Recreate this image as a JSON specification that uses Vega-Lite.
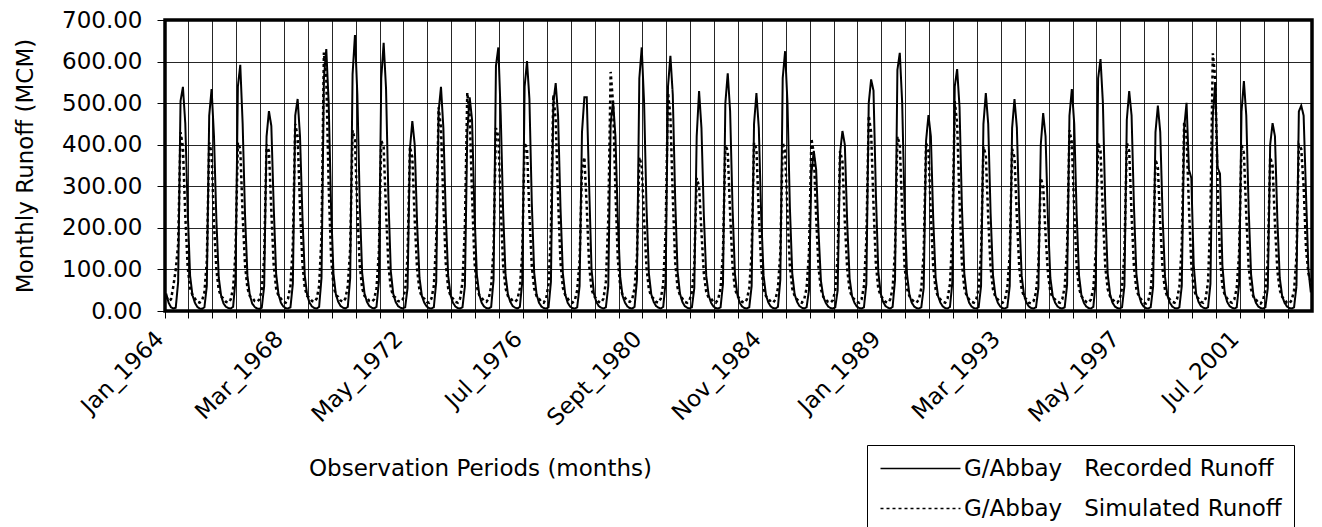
{
"$schema": "https://vega.github.io/schema/vega-lite/v6.json",
"width": 1147, "height": 291,
"autosize": {"type": "none"},
"padding": {"left": 165, "top": 20, "right": 10, "bottom": 216},
"background": "white",
"config": {
 "font": "DejaVu Sans",
 "view": {"stroke": "black", "strokeWidth": 3.5},
 "axis": {"labelFont": "DejaVu Sans", "titleFont": "DejaVu Sans", "labelColor": "black", "titleColor": "black", "titleFontWeight": "normal", "tickColor": "black", "gridColor": "black", "gridWidth": 1, "gridOpacity": 0.85, "domain": false}
},
"data": {"values": [
{"p":"Jan_1964","r":42,"s":35},{"p":"Feb_1964","r":20,"s":25},{"p":"Mar_1964","r":9,"s":28},{"p":"Apr_1964","r":6,"s":60},{"p":"May_1964","r":8,"s":100},{"p":"Jun_1964","r":70,"s":160},{"p":"Jul_1964","r":505,"s":430},{"p":"Aug_1964","r":539,"s":395},{"p":"Sept_1964","r":450,"s":230},{"p":"Oct_1964","r":240,"s":105},{"p":"Nov_1964","r":85,"s":55},{"p":"Dec_1964","r":38,"s":38},
{"p":"Jan_1965","r":20,"s":30},{"p":"Feb_1965","r":10,"s":22},{"p":"Mar_1965","r":6,"s":20},{"p":"Apr_1965","r":5,"s":25},{"p":"May_1965","r":9,"s":45},{"p":"Jun_1965","r":60,"s":120},{"p":"Jul_1965","r":470,"s":405},{"p":"Aug_1965","r":534,"s":380},{"p":"Sept_1965","r":420,"s":210},{"p":"Oct_1965","r":220,"s":100},{"p":"Nov_1965","r":80,"s":50},{"p":"Dec_1965","r":36,"s":35},
{"p":"Jan_1966","r":18,"s":30},{"p":"Feb_1966","r":10,"s":22},{"p":"Mar_1966","r":7,"s":20},{"p":"Apr_1966","r":6,"s":28},{"p":"May_1966","r":10,"s":55},{"p":"Jun_1966","r":75,"s":140},{"p":"Jul_1966","r":540,"s":405},{"p":"Aug_1966","r":592,"s":390},{"p":"Sept_1966","r":450,"s":230},{"p":"Oct_1966","r":230,"s":110},{"p":"Nov_1966","r":85,"s":55},{"p":"Dec_1966","r":38,"s":36},
{"p":"Jan_1967","r":18,"s":32},{"p":"Feb_1967","r":10,"s":24},{"p":"Mar_1967","r":6,"s":22},{"p":"Apr_1967","r":5,"s":28},{"p":"May_1967","r":8,"s":50},{"p":"Jun_1967","r":60,"s":130},{"p":"Jul_1967","r":420,"s":400},{"p":"Aug_1967","r":481,"s":385},{"p":"Sept_1967","r":445,"s":240},{"p":"Oct_1967","r":250,"s":110},{"p":"Nov_1967","r":90,"s":55},{"p":"Dec_1967","r":40,"s":36},
{"p":"Jan_1968","r":20,"s":30},{"p":"Feb_1968","r":11,"s":22},{"p":"Mar_1968","r":7,"s":20},{"p":"Apr_1968","r":6,"s":30},{"p":"May_1968","r":9,"s":60},{"p":"Jun_1968","r":65,"s":160},{"p":"Jul_1968","r":470,"s":450},{"p":"Aug_1968","r":510,"s":420},{"p":"Sept_1968","r":420,"s":250},{"p":"Oct_1968","r":230,"s":115},{"p":"Nov_1968","r":85,"s":55},{"p":"Dec_1968","r":38,"s":36},
{"p":"Jan_1969","r":20,"s":32},{"p":"Feb_1969","r":11,"s":24},{"p":"Mar_1969","r":7,"s":22},{"p":"Apr_1969","r":6,"s":30},{"p":"May_1969","r":10,"s":60},{"p":"Jun_1969","r":80,"s":180},{"p":"Jul_1969","r":560,"s":622},{"p":"Aug_1969","r":630,"s":560},{"p":"Sept_1969","r":500,"s":300},{"p":"Oct_1969","r":250,"s":130},{"p":"Nov_1969","r":90,"s":60},{"p":"Dec_1969","r":40,"s":38},
{"p":"Jan_1970","r":22,"s":34},{"p":"Feb_1970","r":12,"s":25},{"p":"Mar_1970","r":8,"s":22},{"p":"Apr_1970","r":6,"s":30},{"p":"May_1970","r":10,"s":60},{"p":"Jun_1970","r":80,"s":150},{"p":"Jul_1970","r":570,"s":435},{"p":"Aug_1970","r":664,"s":410},{"p":"Sept_1970","r":520,"s":240},{"p":"Oct_1970","r":260,"s":110},{"p":"Nov_1970","r":92,"s":55},{"p":"Dec_1970","r":42,"s":36},
{"p":"Jan_1971","r":22,"s":32},{"p":"Feb_1971","r":12,"s":24},{"p":"Mar_1971","r":8,"s":22},{"p":"Apr_1971","r":6,"s":28},{"p":"May_1971","r":10,"s":55},{"p":"Jun_1971","r":70,"s":140},{"p":"Jul_1971","r":560,"s":410},{"p":"Aug_1971","r":645,"s":395},{"p":"Sept_1971","r":535,"s":240},{"p":"Oct_1971","r":270,"s":110},{"p":"Nov_1971","r":95,"s":55},{"p":"Dec_1971","r":42,"s":36},
{"p":"Jan_1972","r":22,"s":32},{"p":"Feb_1972","r":12,"s":24},{"p":"Mar_1972","r":8,"s":22},{"p":"Apr_1972","r":6,"s":28},{"p":"May_1972","r":9,"s":50},{"p":"Jun_1972","r":55,"s":130},{"p":"Jul_1972","r":390,"s":395},{"p":"Aug_1972","r":457,"s":370},{"p":"Sept_1972","r":400,"s":220},{"p":"Oct_1972","r":210,"s":100},{"p":"Nov_1972","r":80,"s":50},{"p":"Dec_1972","r":36,"s":34},
{"p":"Jan_1973","r":20,"s":30},{"p":"Feb_1973","r":11,"s":22},{"p":"Mar_1973","r":7,"s":20},{"p":"Apr_1973","r":6,"s":30},{"p":"May_1973","r":9,"s":60},{"p":"Jun_1973","r":70,"s":170},{"p":"Jul_1973","r":480,"s":490},{"p":"Aug_1973","r":539,"s":440},{"p":"Sept_1973","r":440,"s":260},{"p":"Oct_1973","r":230,"s":115},{"p":"Nov_1973","r":85,"s":55},{"p":"Dec_1973","r":38,"s":36},
{"p":"Jan_1974","r":20,"s":30},{"p":"Feb_1974","r":11,"s":22},{"p":"Mar_1974","r":7,"s":20},{"p":"Apr_1974","r":6,"s":30},{"p":"May_1974","r":9,"s":70},{"p":"Jun_1974","r":60,"s":200},{"p":"Jul_1974","r":430,"s":525},{"p":"Aug_1974","r":514,"s":470},{"p":"Sept_1974","r":460,"s":280},{"p":"Oct_1974","r":240,"s":120},{"p":"Nov_1974","r":88,"s":58},{"p":"Dec_1974","r":40,"s":38},
{"p":"Jan_1975","r":20,"s":32},{"p":"Feb_1975","r":11,"s":24},{"p":"Mar_1975","r":7,"s":22},{"p":"Apr_1975","r":6,"s":30},{"p":"May_1975","r":10,"s":60},{"p":"Jun_1975","r":75,"s":150},{"p":"Jul_1975","r":590,"s":440},{"p":"Aug_1975","r":634,"s":420},{"p":"Sept_1975","r":470,"s":250},{"p":"Oct_1975","r":240,"s":110},{"p":"Nov_1975","r":88,"s":55},{"p":"Dec_1975","r":40,"s":36},
{"p":"Jan_1976","r":22,"s":32},{"p":"Feb_1976","r":12,"s":24},{"p":"Mar_1976","r":8,"s":22},{"p":"Apr_1976","r":6,"s":28},{"p":"May_1976","r":10,"s":55},{"p":"Jun_1976","r":70,"s":140},{"p":"Jul_1976","r":540,"s":405},{"p":"Aug_1976","r":601,"s":390},{"p":"Sept_1976","r":510,"s":235},{"p":"Oct_1976","r":260,"s":108},{"p":"Nov_1976","r":92,"s":54},{"p":"Dec_1976","r":40,"s":36},
{"p":"Jan_1977","r":20,"s":30},{"p":"Feb_1977","r":11,"s":22},{"p":"Mar_1977","r":7,"s":20},{"p":"Apr_1977","r":6,"s":30},{"p":"May_1977","r":9,"s":65},{"p":"Jun_1977","r":70,"s":190},{"p":"Jul_1977","r":500,"s":520},{"p":"Aug_1977","r":548,"s":460},{"p":"Sept_1977","r":470,"s":270},{"p":"Oct_1977","r":250,"s":118},{"p":"Nov_1977","r":90,"s":56},{"p":"Dec_1977","r":40,"s":38},
{"p":"Jan_1978","r":20,"s":30},{"p":"Feb_1978","r":11,"s":22},{"p":"Mar_1978","r":7,"s":20},{"p":"Apr_1978","r":6,"s":26},{"p":"May_1978","r":9,"s":50},{"p":"Jun_1978","r":60,"s":120},{"p":"Jul_1978","r":430,"s":340},{"p":"Aug_1978","r":514,"s":370},{"p":"Sept_1978","r":514,"s":250},{"p":"Oct_1978","r":300,"s":110},{"p":"Nov_1978","r":100,"s":52},{"p":"Dec_1978","r":42,"s":36},
{"p":"Jan_1979","r":22,"s":30},{"p":"Feb_1979","r":12,"s":22},{"p":"Mar_1979","r":8,"s":20},{"p":"Apr_1979","r":6,"s":30},{"p":"May_1979","r":9,"s":70},{"p":"Jun_1979","r":60,"s":220},{"p":"Jul_1979","r":450,"s":575},{"p":"Aug_1979","r":505,"s":500},{"p":"Sept_1979","r":420,"s":290},{"p":"Oct_1979","r":220,"s":125},{"p":"Nov_1979","r":82,"s":58},{"p":"Dec_1979","r":36,"s":38},
{"p":"Jan_1980","r":20,"s":32},{"p":"Feb_1980","r":11,"s":24},{"p":"Mar_1980","r":7,"s":22},{"p":"Apr_1980","r":6,"s":28},{"p":"May_1980","r":10,"s":55},{"p":"Jun_1980","r":75,"s":130},{"p":"Jul_1980","r":560,"s":370},{"p":"Aug_1980","r":634,"s":350},{"p":"Sept_1980","r":500,"s":220},{"p":"Oct_1980","r":250,"s":105},{"p":"Nov_1980","r":90,"s":52},{"p":"Dec_1980","r":40,"s":35},
{"p":"Jan_1981","r":22,"s":30},{"p":"Feb_1981","r":12,"s":22},{"p":"Mar_1981","r":8,"s":20},{"p":"Apr_1981","r":6,"s":30},{"p":"May_1981","r":10,"s":65},{"p":"Jun_1981","r":70,"s":190},{"p":"Jul_1981","r":540,"s":525},{"p":"Aug_1981","r":614,"s":470},{"p":"Sept_1981","r":520,"s":275},{"p":"Oct_1981","r":270,"s":118},{"p":"Nov_1981","r":95,"s":56},{"p":"Dec_1981","r":42,"s":38},
{"p":"Jan_1982","r":22,"s":30},{"p":"Feb_1982","r":12,"s":22},{"p":"Mar_1982","r":8,"s":20},{"p":"Apr_1982","r":6,"s":26},{"p":"May_1982","r":9,"s":45},{"p":"Jun_1982","r":55,"s":110},{"p":"Jul_1982","r":420,"s":320},{"p":"Aug_1982","r":529,"s":300},{"p":"Sept_1982","r":440,"s":190},{"p":"Oct_1982","r":230,"s":90},{"p":"Nov_1982","r":85,"s":46},{"p":"Dec_1982","r":38,"s":32},
{"p":"Jan_1983","r":20,"s":30},{"p":"Feb_1983","r":11,"s":22},{"p":"Mar_1983","r":7,"s":20},{"p":"Apr_1983","r":6,"s":28},{"p":"May_1983","r":9,"s":55},{"p":"Jun_1983","r":65,"s":140},{"p":"Jul_1983","r":500,"s":400},{"p":"Aug_1983","r":572,"s":385},{"p":"Sept_1983","r":480,"s":235},{"p":"Oct_1983","r":250,"s":108},{"p":"Nov_1983","r":90,"s":54},{"p":"Dec_1983","r":40,"s":36},
{"p":"Jan_1984","r":20,"s":30},{"p":"Feb_1984","r":11,"s":22},{"p":"Mar_1984","r":7,"s":20},{"p":"Apr_1984","r":6,"s":28},{"p":"May_1984","r":9,"s":55},{"p":"Jun_1984","r":60,"s":140},{"p":"Jul_1984","r":450,"s":405},{"p":"Aug_1984","r":524,"s":390},{"p":"Sept_1984","r":440,"s":235},{"p":"Oct_1984","r":230,"s":108},{"p":"Nov_1984","r":85,"s":54},{"p":"Dec_1984","r":38,"s":36},
{"p":"Jan_1985","r":20,"s":30},{"p":"Feb_1985","r":11,"s":22},{"p":"Mar_1985","r":7,"s":20},{"p":"Apr_1985","r":6,"s":28},{"p":"May_1985","r":10,"s":55},{"p":"Jun_1985","r":75,"s":140},{"p":"Jul_1985","r":560,"s":405},{"p":"Aug_1985","r":625,"s":385},{"p":"Sept_1985","r":500,"s":235},{"p":"Oct_1985","r":250,"s":108},{"p":"Nov_1985","r":90,"s":54},{"p":"Dec_1985","r":40,"s":36},
{"p":"Jan_1986","r":22,"s":28},{"p":"Feb_1986","r":12,"s":22},{"p":"Mar_1986","r":8,"s":20},{"p":"Apr_1986","r":6,"s":28},{"p":"May_1986","r":9,"s":55},{"p":"Jun_1986","r":50,"s":140},{"p":"Jul_1986","r":330,"s":415},{"p":"Aug_1986","r":385,"s":380},{"p":"Sept_1986","r":340,"s":225},{"p":"Oct_1986","r":190,"s":104},{"p":"Nov_1986","r":72,"s":52},{"p":"Dec_1986","r":34,"s":34},
{"p":"Jan_1987","r":20,"s":28},{"p":"Feb_1987","r":11,"s":22},{"p":"Mar_1987","r":7,"s":20},{"p":"Apr_1987","r":6,"s":26},{"p":"May_1987","r":9,"s":50},{"p":"Jun_1987","r":50,"s":130},{"p":"Jul_1987","r":380,"s":385},{"p":"Aug_1987","r":433,"s":360},{"p":"Sept_1987","r":400,"s":215},{"p":"Oct_1987","r":210,"s":100},{"p":"Nov_1987","r":78,"s":50},{"p":"Dec_1987","r":36,"s":34},
{"p":"Jan_1988","r":20,"s":28},{"p":"Feb_1988","r":11,"s":22},{"p":"Mar_1988","r":7,"s":20},{"p":"Apr_1988","r":6,"s":28},{"p":"May_1988","r":9,"s":60},{"p":"Jun_1988","r":65,"s":170},{"p":"Jul_1988","r":500,"s":470},{"p":"Aug_1988","r":557,"s":430},{"p":"Sept_1988","r":530,"s":255},{"p":"Oct_1988","r":280,"s":112},{"p":"Nov_1988","r":95,"s":54},{"p":"Dec_1988","r":42,"s":36},
{"p":"Jan_1989","r":22,"s":30},{"p":"Feb_1989","r":12,"s":22},{"p":"Mar_1989","r":8,"s":20},{"p":"Apr_1989","r":6,"s":28},{"p":"May_1989","r":10,"s":55},{"p":"Jun_1989","r":75,"s":145},{"p":"Jul_1989","r":580,"s":420},{"p":"Aug_1989","r":621,"s":400},{"p":"Sept_1989","r":500,"s":240},{"p":"Oct_1989","r":250,"s":108},{"p":"Nov_1989","r":90,"s":54},{"p":"Dec_1989","r":40,"s":36},
{"p":"Jan_1990","r":20,"s":28},{"p":"Feb_1990","r":11,"s":22},{"p":"Mar_1990","r":7,"s":20},{"p":"Apr_1990","r":6,"s":28},{"p":"May_1990","r":9,"s":55},{"p":"Jun_1990","r":55,"s":140},{"p":"Jul_1990","r":410,"s":405},{"p":"Aug_1990","r":471,"s":385},{"p":"Sept_1990","r":420,"s":230},{"p":"Oct_1990","r":220,"s":105},{"p":"Nov_1990","r":80,"s":52},{"p":"Dec_1990","r":36,"s":34},
{"p":"Jan_1991","r":20,"s":28},{"p":"Feb_1991","r":11,"s":22},{"p":"Mar_1991","r":7,"s":20},{"p":"Apr_1991","r":6,"s":30},{"p":"May_1991","r":10,"s":65},{"p":"Jun_1991","r":70,"s":185},{"p":"Jul_1991","r":540,"s":505},{"p":"Aug_1991","r":582,"s":450},{"p":"Sept_1991","r":490,"s":265},{"p":"Oct_1991","r":250,"s":115},{"p":"Nov_1991","r":90,"s":55},{"p":"Dec_1991","r":40,"s":36},
{"p":"Jan_1992","r":20,"s":28},{"p":"Feb_1992","r":11,"s":22},{"p":"Mar_1992","r":7,"s":20},{"p":"Apr_1992","r":6,"s":28},{"p":"May_1992","r":9,"s":55},{"p":"Jun_1992","r":60,"s":140},{"p":"Jul_1992","r":450,"s":395},{"p":"Aug_1992","r":524,"s":375},{"p":"Sept_1992","r":450,"s":225},{"p":"Oct_1992","r":235,"s":104},{"p":"Nov_1992","r":86,"s":52},{"p":"Dec_1992","r":38,"s":34},
{"p":"Jan_1993","r":20,"s":28},{"p":"Feb_1993","r":11,"s":22},{"p":"Mar_1993","r":7,"s":20},{"p":"Apr_1993","r":6,"s":28},{"p":"May_1993","r":9,"s":55},{"p":"Jun_1993","r":60,"s":135},{"p":"Jul_1993","r":440,"s":390},{"p":"Aug_1993","r":510,"s":370},{"p":"Sept_1993","r":440,"s":225},{"p":"Oct_1993","r":230,"s":104},{"p":"Nov_1993","r":85,"s":52},{"p":"Dec_1993","r":38,"s":34},
{"p":"Jan_1994","r":20,"s":28},{"p":"Feb_1994","r":11,"s":20},{"p":"Mar_1994","r":7,"s":18},{"p":"Apr_1994","r":6,"s":24},{"p":"May_1994","r":9,"s":45},{"p":"Jun_1994","r":55,"s":110},{"p":"Jul_1994","r":400,"s":320},{"p":"Aug_1994","r":476,"s":300},{"p":"Sept_1994","r":420,"s":185},{"p":"Oct_1994","r":220,"s":90},{"p":"Nov_1994","r":80,"s":46},{"p":"Dec_1994","r":36,"s":32},
{"p":"Jan_1995","r":20,"s":28},{"p":"Feb_1995","r":11,"s":22},{"p":"Mar_1995","r":7,"s":20},{"p":"Apr_1995","r":6,"s":28},{"p":"May_1995","r":9,"s":58},{"p":"Jun_1995","r":62,"s":150},{"p":"Jul_1995","r":470,"s":435},{"p":"Aug_1995","r":534,"s":405},{"p":"Sept_1995","r":450,"s":240},{"p":"Oct_1995","r":235,"s":108},{"p":"Nov_1995","r":86,"s":54},{"p":"Dec_1995","r":38,"s":36},
{"p":"Jan_1996","r":20,"s":28},{"p":"Feb_1996","r":11,"s":22},{"p":"Mar_1996","r":7,"s":20},{"p":"Apr_1996","r":6,"s":28},{"p":"May_1996","r":10,"s":55},{"p":"Jun_1996","r":72,"s":140},{"p":"Jul_1996","r":560,"s":405},{"p":"Aug_1996","r":606,"s":385},{"p":"Sept_1996","r":500,"s":232},{"p":"Oct_1996","r":250,"s":106},{"p":"Nov_1996","r":90,"s":53},{"p":"Dec_1996","r":40,"s":35},
{"p":"Jan_1997","r":20,"s":28},{"p":"Feb_1997","r":11,"s":22},{"p":"Mar_1997","r":7,"s":20},{"p":"Apr_1997","r":6,"s":28},{"p":"May_1997","r":9,"s":55},{"p":"Jun_1997","r":60,"s":140},{"p":"Jul_1997","r":460,"s":405},{"p":"Aug_1997","r":529,"s":385},{"p":"Sept_1997","r":470,"s":232},{"p":"Oct_1997","r":250,"s":106},{"p":"Nov_1997","r":90,"s":53},{"p":"Dec_1997","r":40,"s":35},
{"p":"Jan_1998","r":20,"s":28},{"p":"Feb_1998","r":11,"s":20},{"p":"Mar_1998","r":7,"s":18},{"p":"Apr_1998","r":6,"s":26},{"p":"May_1998","r":9,"s":50},{"p":"Jun_1998","r":58,"s":125},{"p":"Jul_1998","r":430,"s":365},{"p":"Aug_1998","r":494,"s":345},{"p":"Sept_1998","r":430,"s":210},{"p":"Oct_1998","r":225,"s":98},{"p":"Nov_1998","r":82,"s":50},{"p":"Dec_1998","r":37,"s":34},
{"p":"Jan_1999","r":20,"s":28},{"p":"Feb_1999","r":11,"s":22},{"p":"Mar_1999","r":7,"s":20},{"p":"Apr_1999","r":6,"s":28},{"p":"May_1999","r":9,"s":58},{"p":"Jun_1999","r":60,"s":160},{"p":"Jul_1999","r":440,"s":455},{"p":"Aug_1999","r":501,"s":420},{"p":"Sept_1999","r":340,"s":250},{"p":"Oct_1999","r":320,"s":110},{"p":"Nov_1999","r":110,"s":54},{"p":"Dec_1999","r":42,"s":36},
{"p":"Jan_2000","r":22,"s":30},{"p":"Feb_2000","r":12,"s":22},{"p":"Mar_2000","r":8,"s":20},{"p":"Apr_2000","r":6,"s":30},{"p":"May_2000","r":9,"s":70},{"p":"Jun_2000","r":65,"s":230},{"p":"Jul_2000","r":470,"s":620},{"p":"Aug_2000","r":548,"s":560},{"p":"Sept_2000","r":345,"s":300},{"p":"Oct_2000","r":330,"s":130},{"p":"Nov_2000","r":110,"s":60},{"p":"Dec_2000","r":42,"s":38},
{"p":"Jan_2001","r":22,"s":30},{"p":"Feb_2001","r":12,"s":22},{"p":"Mar_2001","r":8,"s":20},{"p":"Apr_2001","r":6,"s":28},{"p":"May_2001","r":9,"s":55},{"p":"Jun_2001","r":65,"s":140},{"p":"Jul_2001","r":480,"s":400},{"p":"Aug_2001","r":553,"s":380},{"p":"Sept_2001","r":470,"s":230},{"p":"Oct_2001","r":245,"s":105},{"p":"Nov_2001","r":88,"s":52},{"p":"Dec_2001","r":38,"s":34},
{"p":"Jan_2002","r":20,"s":28},{"p":"Feb_2002","r":11,"s":20},{"p":"Mar_2002","r":7,"s":18},{"p":"Apr_2002","r":6,"s":26},{"p":"May_2002","r":9,"s":50},{"p":"Jun_2002","r":55,"s":125},{"p":"Jul_2002","r":400,"s":370},{"p":"Aug_2002","r":452,"s":350},{"p":"Sept_2002","r":420,"s":210},{"p":"Oct_2002","r":220,"s":98},{"p":"Nov_2002","r":80,"s":50},{"p":"Dec_2002","r":36,"s":34},
{"p":"Jan_2003","r":20,"s":28},{"p":"Feb_2003","r":11,"s":20},{"p":"Mar_2003","r":7,"s":18},{"p":"Apr_2003","r":6,"s":26},{"p":"May_2003","r":9,"s":50},{"p":"Jun_2003","r":60,"s":130},{"p":"Jul_2003","r":480,"s":400},{"p":"Aug_2003","r":494,"s":390},{"p":"Sept_2003","r":470,"s":300},{"p":"Oct_2003","r":280,"s":150},{"p":"Nov_2003","r":100,"s":90},{"p":"Dec_2003","r":45,"s":70}
]},
"layer": [
 {
  "mark": {"type": "line", "color": "black", "strokeWidth": 2},
  "encoding": {
   "x": {"field": "p", "type": "nominal", "sort": null, "bandPosition": 0.5,
    "scale": {"type": "band", "paddingInner": 0, "paddingOuter": 0},
    "axis": {"orient": "bottom", "bandPosition": 0, "labels": false, "title": null, "grid": true, "ticks": true, "tickSize": 7, "domain": false,
     "values": ["Jan_1964","Nov_1964","Sept_1965","Jul_1966","May_1967","Mar_1968","Jan_1969","Nov_1969","Sept_1970","Jul_1971","May_1972","Mar_1973","Jan_1974","Nov_1974","Sept_1975","Jul_1976","May_1977","Mar_1978","Jan_1979","Nov_1979","Sept_1980","Jul_1981","May_1982","Mar_1983","Jan_1984","Nov_1984","Sept_1985","Jul_1986","May_1987","Mar_1988","Jan_1989","Nov_1989","Sept_1990","Jul_1991","May_1992","Mar_1993","Jan_1994","Nov_1994","Sept_1995","Jul_1996","May_1997","Mar_1998","Jan_1999","Nov_1999","Sept_2000","Jul_2001","May_2002","Mar_2003"]}},
   "y": {"field": "r", "type": "quantitative", "scale": {"domain": [0, 700], "nice": false},
    "axis": {"values": [0,100,200,300,400,500,600,700], "format": ".2f", "title": "Monthly Runoff (MCM)", "labelFontSize": 23, "titleFontSize": 23, "tickSize": 8, "labelPadding": 15, "titlePadding": 24, "grid": true}},
   "strokeDash": {"datum": "r", "type": "nominal", "scale": {"domain": ["r", "s"], "range": [[1, 0], [3, 3]]},
    "legend": {"orient": "none", "legendX": 702, "legendY": 425, "title": null, "symbolType": "M-1,0H7", "symbolSize": 400, "symbolStrokeWidth": 1.5, "symbolStrokeColor": "black", "symbolFillColor": "transparent", "labelFontSize": 23, "labelFont": "DejaVu Sans", "labelColor": "black", "strokeColor": "black", "fillColor": "white", "padding": 12, "rowPadding": 16, "labelOffset": 62, "labelLimit": 600,
     "labelExpr": "datum.label == 'r' ? 'G/Abbay\u00a0\u00a0\u00a0Recorded Runoff' : 'G/Abbay\u00a0\u00a0\u00a0Simulated Runoff'"}}
  }
 },
 {
  "mark": {"type": "line", "color": "black", "strokeWidth": 2.5},
  "encoding": {
   "x": {"field": "p", "type": "nominal", "sort": null, "bandPosition": 0.5,
    "scale": {"type": "band", "paddingInner": 0, "paddingOuter": 0},
    "axis": {"orient": "bottom", "bandPosition": 0.5, "grid": false, "ticks": false, "domain": false, "labelAngle": -45, "labelAlign": "right", "labelBaseline": "middle", "labelPadding": 24, "labelOffset": -6, "labelFontSize": 23, "labelOverlap": false, "labelBound": false,
     "values": ["Jan_1964","Mar_1968","May_1972","Jul_1976","Sept_1980","Nov_1984","Jan_1989","Mar_1993","May_1997","Jul_2001"],
     "title": "Observation Periods (months)", "titleFontSize": 23, "titleX": 315, "titleY": 157, "titleAlign": "center", "titleBaseline": "middle"}},
   "y": {"field": "s", "type": "quantitative", "scale": {"domain": [0, 700], "nice": false},
    "axis": {"values": [0,100,200,300,400,500,600,700], "format": ".2f", "title": "Monthly Runoff (MCM)", "labelFontSize": 23, "titleFontSize": 23, "tickSize": 8, "labelPadding": 15, "titlePadding": 24, "grid": true}},
   "strokeDash": {"datum": "s", "type": "nominal", "scale": {"domain": ["r", "s"], "range": [[1, 0], [3, 3]]},
    "legend": {"orient": "none", "legendX": 702, "legendY": 425, "title": null, "symbolType": "M-1,0H7", "symbolSize": 400, "symbolStrokeWidth": 1.5, "symbolStrokeColor": "black", "symbolFillColor": "transparent", "labelFontSize": 23, "labelFont": "DejaVu Sans", "labelColor": "black", "strokeColor": "black", "fillColor": "white", "padding": 12, "rowPadding": 16, "labelOffset": 62, "labelLimit": 600,
     "labelExpr": "datum.label == 'r' ? 'G/Abbay\u00a0\u00a0\u00a0Recorded Runoff' : 'G/Abbay\u00a0\u00a0\u00a0Simulated Runoff'"}}
  }
 }
],
"resolve": {"axis": {"x": "independent"}}
}
